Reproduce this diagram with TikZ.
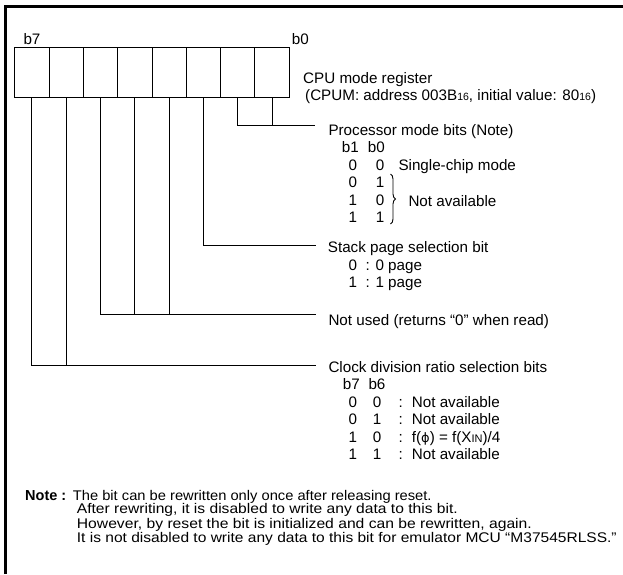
\documentclass[tikz,border=0pt]{standalone}
\usepackage{fontspec}
\setmainfont{Liberation Sans}
\newfontfamily\dejavu{DejaVu Sans}
\usetikzlibrary{decorations.pathreplacing}
\newcommand\smallsub[1]{{\fontsize{10.5}{10.5}\selectfont #1}}
\begin{document}
\begin{tikzpicture}[x=1pt,y=-1pt,
  txt/.style={anchor=base west,inner sep=0pt,font=\fontsize{15.2}{17.5}\selectfont},
  notetxt/.style={anchor=base west,inner sep=0pt,font=\fontsize{14}{14}\selectfont},
  cell/.style={draw=black,line width=1pt,minimum width=34.325pt,minimum height=50pt,inner sep=0pt},
  conn/.style={draw=black,line width=1pt},
  frame/.style={line width=3pt,black}]
\useasboundingbox (0,0) rectangle (623,574);
% frame
\draw[frame] (5,574) -- (5,6.5) -- (623,6.5);
% register cells
\foreach \i/\n in {0/7,1/6,2/5,3/4,4/3,5/2,6/1,7/0}{
  \node[cell] (c\n) at ({14.7+34.325*(\i+0.5)},72) {};
}
\node[txt] (lb7) at (23.3,44) {b7};
\node[txt] (lb0) at (291.7,44) {b0};
% register title
\node[txt] (title) at (303,83.3) {CPU mode register};
\node[txt] (addr) at (305,100.8) {(CPUM: address 003B\smallsub{16}, initial value: 80\smallsub{16})};
% connector end points
\coordinate (e0) at (315,125);
\coordinate (e1) at (316,245);
\coordinate (e2) at (316,314);
\coordinate (e3) at (316,365);
\draw[conn] (c1.south) |- (e0);
\draw[conn] (c0.south) -- (c0.south |- e0);
\draw[conn] (c2.south) |- (e1);
\draw[conn] (c5.south) |- (e2);
\draw[conn] (c4.south) -- (c4.south |- e2);
\draw[conn] (c3.south) -- (c3.south |- e2);
\draw[conn] (c7.south) |- (e3);
\draw[conn] (c6.south) -- (c6.south |- e3);
% processor mode bits
\node[txt] (pm) at (328.3,135) {Processor mode bits (Note)};
\node[txt] (pmb1) at (341.7,152.5) {b1};
\node[txt] (pmb0) at (367.7,152.5) {b0};
\foreach \y/\a/\b [count=\k] in {170/0/0,187.5/0/1,205/1/0,222.5/1/1}{
  \node[txt] (pma\k) at (348.3,\y) {\a};
  \node[txt] (pmbb\k) at (375.7,\y) {\b};
}
\node[txt] (single) at (398.3,170) {Single-chip mode};
\draw[conn,line width=0.9pt,decorate,decoration={brace,amplitude=5pt}] (390.5,174) -- (390.5,224);
\node[txt] (na) at (408.3,206) {Not available};
% stack page
\node[txt] (sp) at (327.7,252) {Stack page selection bit};
\node[txt] (sp0) at (348.3,270) {0};
\node[txt] (sp0t) at (365.5,270) {: 0 page};
\node[txt] (sp1) at (348.3,287.5) {1};
\node[txt] (sp1t) at (365.5,287.5) {: 1 page};
% not used
\node[txt] (nu) at (328.3,325.5) {Not used (returns “0” when read)};
% clock division
\node[txt] (cd) at (328.3,372) {Clock division ratio selection bits};
\node[txt] (cdb7) at (342.7,389.5) {b7};
\node[txt] (cdb6) at (368.3,389.5) {b6};
\foreach \y/\a/\b/\t [count=\k] in {407/0/0/Not available,424.5/0/1/Not available,442/1/0/{f({\dejavu\fontsize{13}{13}\selectfont ϕ}) = f(X{\fontsize{11}{11}\selectfont IN})/4},459.5/1/1/Not available}{
  \node[txt] (cda\k) at (348.3,\y) {\a};
  \node[txt] (cdbb\k) at (372.7,\y) {\b};
  \node[txt] (cdc\k) at (398.3,\y) {:};
  \node[txt] (cdt\k) at (411.7,\y) {\t};
}
% note
\node[notetxt,font=\fontsize{14.5}{14}\selectfont\bfseries] (note) at (25,500) {Note :};
\node[notetxt] (n1) at (72.7,500) {\scalebox{1.05}[1]{The bit can be rewritten only once after releasing reset.}};
\node[notetxt] (n2) at (76.7,513.5) {\scalebox{1.115}[1]{After rewriting, it is disabled to write any data to this bit.}};
\node[notetxt] (n3) at (76.7,528) {\scalebox{1.12}[1]{However, by reset the bit is initialized and can be rewritten, again.}};
\node[notetxt] (n4) at (76.7,542) {\scalebox{1.11}[1]{It is not disabled to write any data to this bit for emulator MCU “M37545RLSS.”}};
\end{tikzpicture}
\end{document}
